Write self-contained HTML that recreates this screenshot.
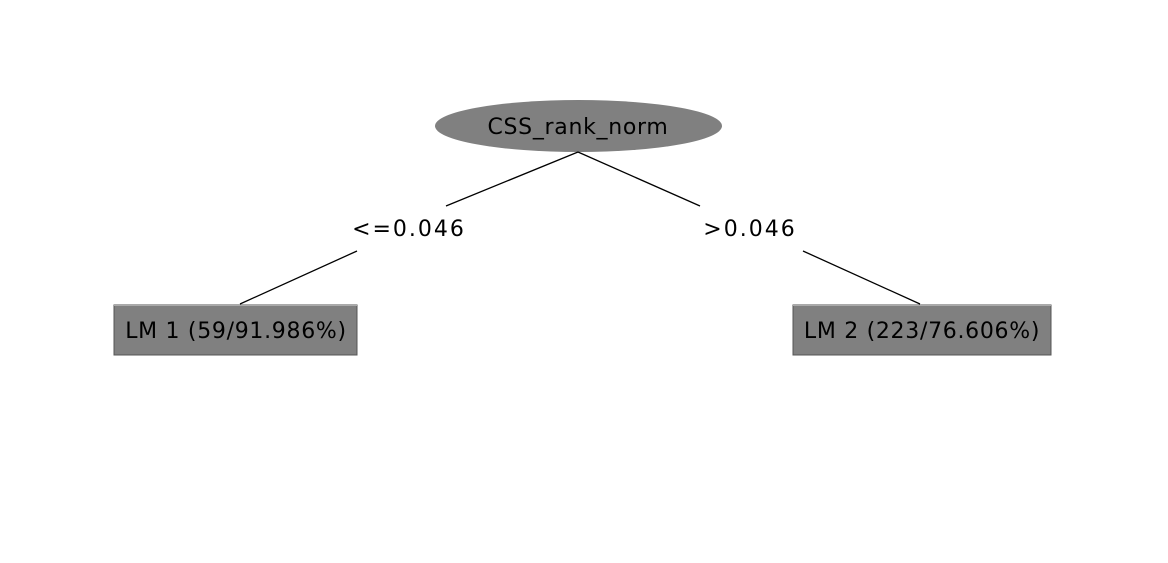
<!DOCTYPE html>
<html><head><style>
html,body{margin:0;padding:0;background:#fff;}
svg text{font-family:"DejaVu Sans","Liberation Sans",sans-serif;font-size:22px;letter-spacing:0.7px;fill:#000;}
</style></head><body>
<svg width="1168" height="558" xmlns="http://www.w3.org/2000/svg">
<rect width="1168" height="558" fill="#fff"/>
<ellipse cx="578.5" cy="126" rx="143.5" ry="26" fill="#808080"/>
<text x="578" y="134" text-anchor="middle">CSS_rank_norm</text>
<g stroke="#000" stroke-width="1.3">
<line x1="578" y1="152" x2="446" y2="206"/>
<line x1="578" y1="152" x2="700" y2="206"/>
<line x1="357" y1="251" x2="240" y2="304"/>
<line x1="803" y1="251" x2="920" y2="304"/>
</g>
<text x="409" y="236" text-anchor="middle" style="letter-spacing:2px">&lt;=0.046</text>
<text x="750" y="236" text-anchor="middle" style="letter-spacing:2px">&gt;0.046</text>
<rect x="114" y="305" width="243" height="50" fill="#808080" stroke="#555" stroke-width="1"/>
<line x1="114" y1="305.5" x2="357" y2="305.5" stroke="#aaa"/>
<text x="236" y="338" text-anchor="middle">LM 1 (59/91.986%)</text>
<rect x="793" y="305" width="258" height="50" fill="#808080" stroke="#555" stroke-width="1"/>
<line x1="793" y1="305.5" x2="1051" y2="305.5" stroke="#aaa"/>
<text x="922" y="338" text-anchor="middle">LM 2 (223/76.606%)</text>
</svg>
</body></html>
